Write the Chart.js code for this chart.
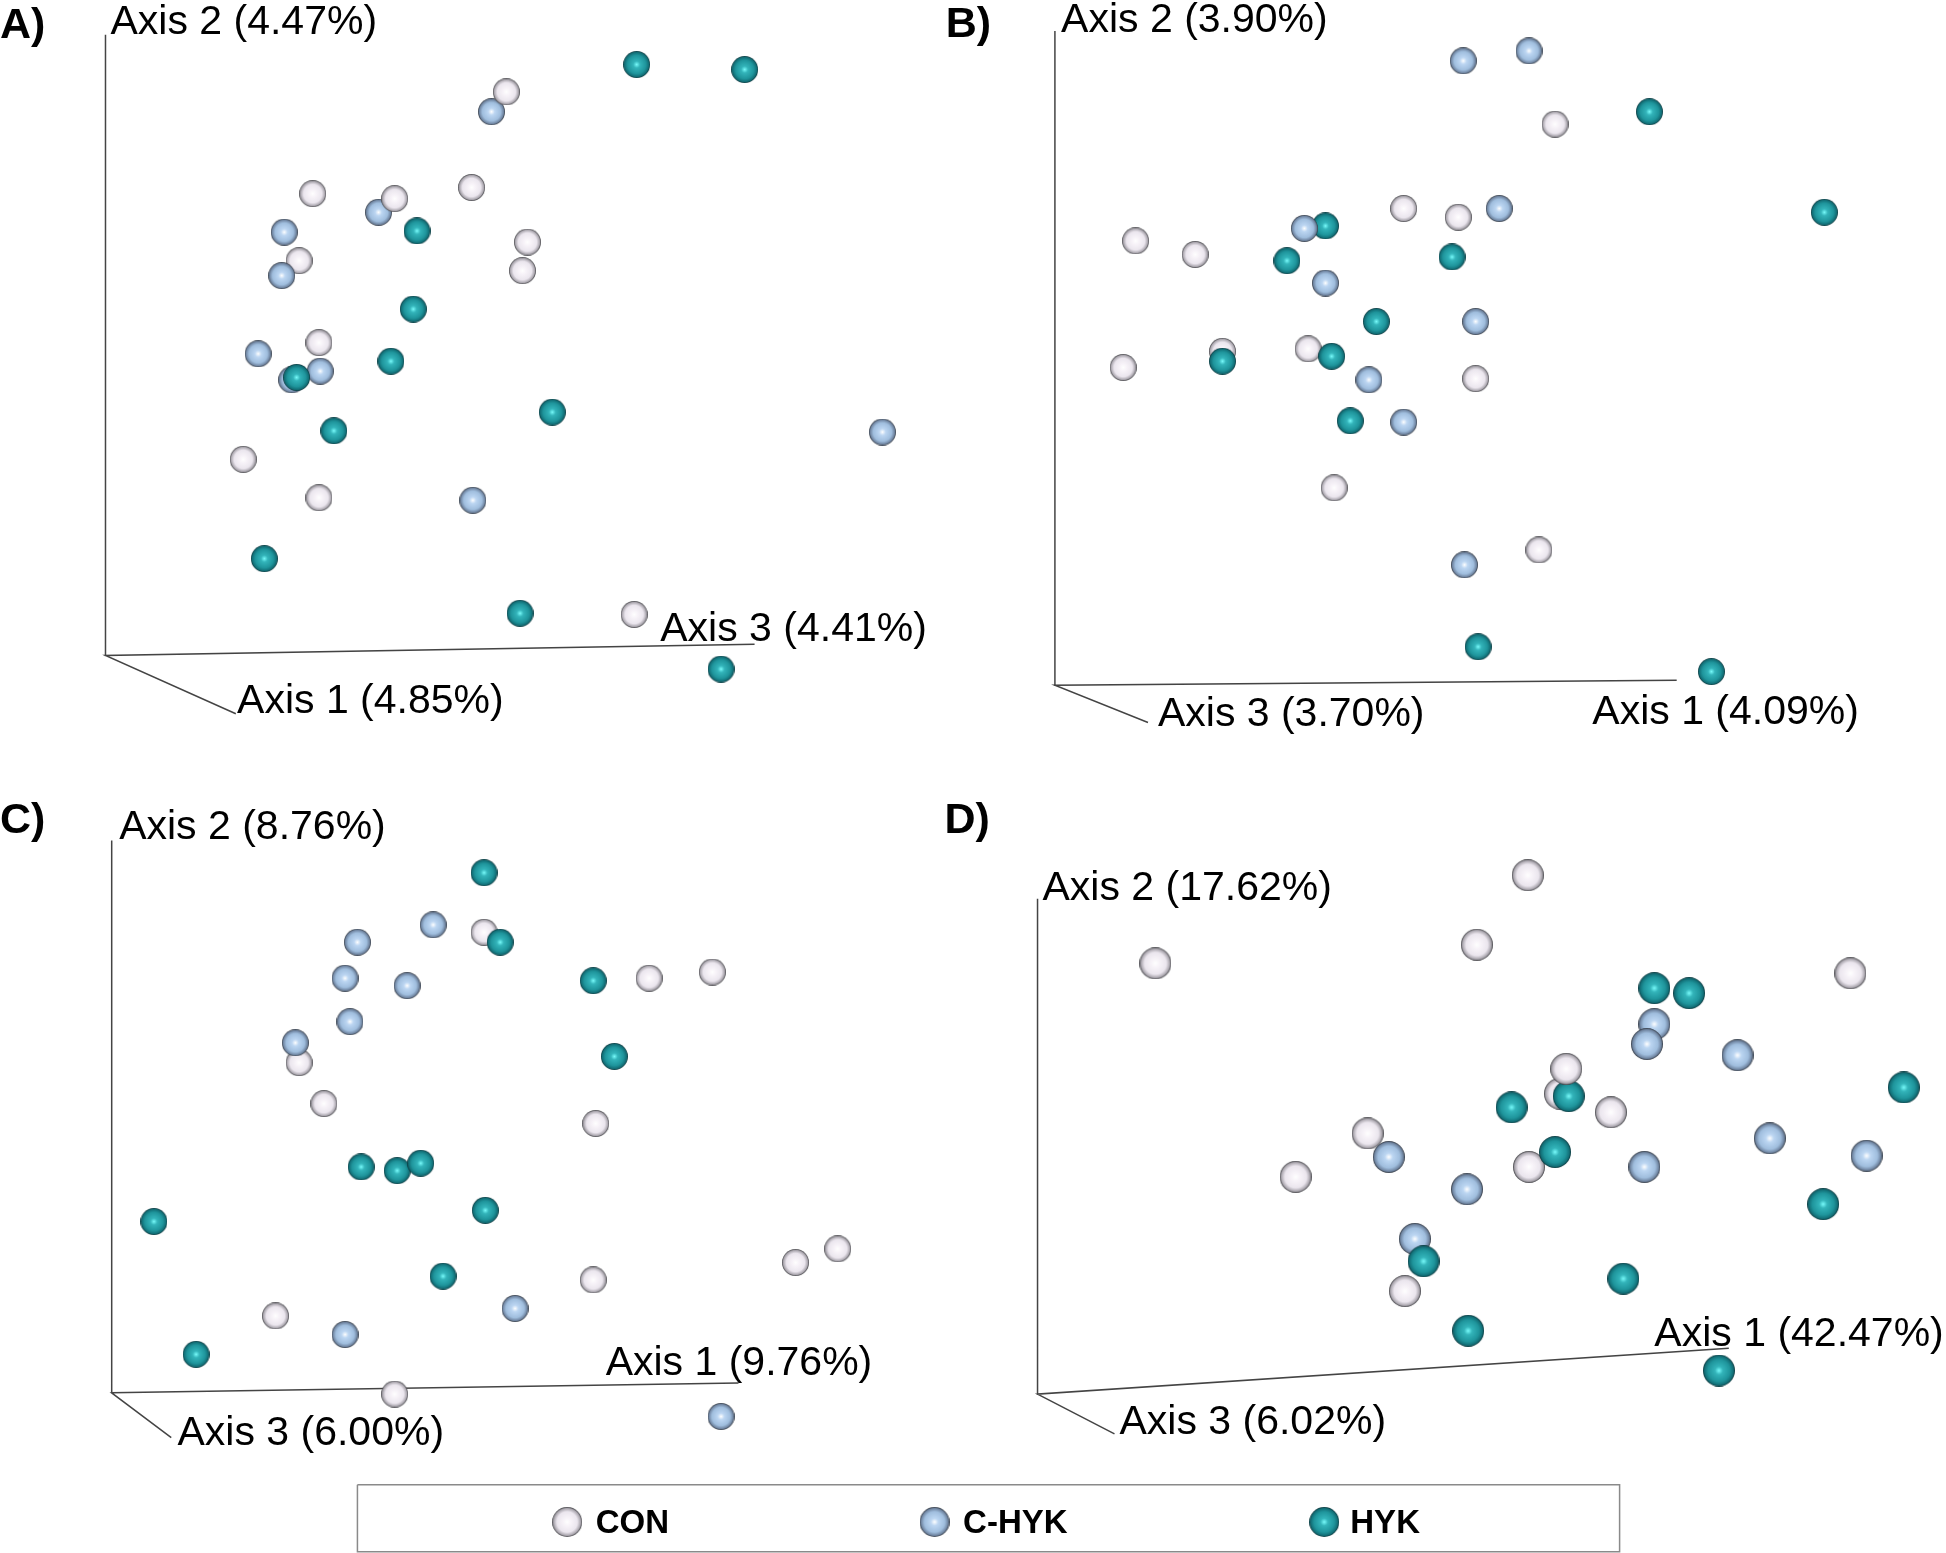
<!DOCTYPE html>
<html><head><meta charset="utf-8">
<style>html,body{margin:0;padding:0;background:#fff}canvas{display:block}</style>
<script src="https://cdn.jsdelivr.net/npm/chart.js@4"></script>
</head><body>
<canvas id="c" width="1946" height="1553"></canvas>
<script>
const conA=[[252,156],[380,151],[425,195],[421,218],[241,210],[257,276],[196,370],[257,401],[511,495]];
const cHykA=[[396,90],[305,171],[229,187],[227,222],[208,285],[258,299],[235,306],[711,348],[381,403]];
const hykA=[[513,52],[600,56],[336,186],[333,249],[315,291],[239,304],[445,332],[269,347],[213,450],[419,494],[581,539]];
const conATop=[[408,74],[318,160]];

const conB=[[1253,100],[1131,168],[1175,175],[915,194],[963,205],[985,283],[905,296],[1054,281],[1189,305],[1075,393],[1240,443]];
const cHykB=[[1179,49],[1232,41],[1208,168],[1068,228],[1189,259],[1103,306],[1131,340],[1180,455]];
const hykB=[[1329,90],[1470,171],[1068,182],[1037,210],[1170,207],[1109,259],[985,291],[1073,287],[1088,339],[1191,521],[1379,541]];
const cHykBTop=[[1051,184]];

const conC=[[390,751],[523,788],[574,783],[241,856],[261,889],[480,905],[641,1017],[675,1006],[478,1031],[222,1060],[318,1123]];
const cHykC=[[288,759],[349,745],[278,788],[328,794],[282,823],[238,840],[415,1054],[278,1075],[581,1141]];
const hykC=[[390,703],[403,759],[478,790],[495,851],[291,940],[320,943],[339,937],[391,975],[124,984],[357,1028],[158,1091]];

const conD=[[1231,705],[931,776],[1190,761],[1491,784],[1257,881],[1298,896],[1102,913],[1044,948],[1232,940],[1132,1040]];
const cHykD=[[1333,825],[1327,841],[1400,850],[1426,917],[1504,931],[1325,940],[1119,932],[1182,958],[1140,998]];
const hykD=[[1333,796],[1361,800],[1264,883],[1218,892],[1534,876],[1253,928],[1469,970],[1147,1016],[1308,1030],[1183,1072],[1385,1104]];
const conDTop=[[1262,861]];

const axesA=[[85,28],[85,528],[608,519],[85,528],[190,575]];
const axesB=[[850,25],[850,552],[1351,548],[850,552],[925,582]];
const axesC=[[90,677],[90,1122],[595,1114],[90,1122],[138,1158]];
const axesD=[[836,724],[836,1123],[1393,1086],[836,1123],[898,1155]];

const legendBox=[[288,1196],[1305,1196],[1305,1250],[288,1250],[288,1196]];
const legendCon=[[457,1226]];
const legendCHyk=[[753,1226]];
const legendHyk=[[1067,1226]];

const axisLabels=[
 ["Axis 2 (4.47%)",89,27],["Axis 3 (4.41%)",532,516],["Axis 1 (4.85%)",191,574],
 ["Axis 2 (3.90%)",855,26],["Axis 3 (3.70%)",933,585],["Axis 1 (4.09%)",1283,583],
 ["Axis 2 (8.76%)",96,676],["Axis 1 (9.76%)",488,1108],["Axis 3 (6.00%)",143,1164],
 ["Axis 2 (17.62%)",840,725],["Axis 1 (42.47%)",1333,1084],["Axis 3 (6.02%)",902,1155]];
const panelLabels=[["A)",0,31],["B)",762,30],["C)",0,671],["D)",761,671]];
const legendLabels=[["CON",480,1235],["C-HYK",776,1235],["HYK",1088,1235]];

const colCon=["#ffffff","#f8f4f9","#ebe6ee","#a9a5ad","#3c3c40"];
const colCHyk=["#ffffff","#bcd6f2","#a0bede","#6f84a0","#30363f"];
const colHyk=["#78fbfb","#33b4ba","#1f959c","#126e76","#0b3439"];

function sphere(r,c){
  const k=document.createElement("canvas");k.width=k.height=2*r;
  const g=k.getContext("2d");
  const rg=g.createRadialGradient(r,r,0,r,r,r);
  rg.addColorStop(0,c[0]);rg.addColorStop(.25,c[1]);rg.addColorStop(.68,c[2]);rg.addColorStop(.9,c[3]);rg.addColorStop(1,c[4]);
  g.fillStyle=rg;g.beginPath();g.arc(r,r,r,0,Math.PI*2);g.fill();
  return k;
}
function pts(arr){return arr.map(p=>({x:p[0],y:p[1]}));}
function balls(arr,col,r){
  return {type:"scatter",data:pts(arr),pointStyle:sphere(r,col),pointRadius:r,pointHoverRadius:r,showLine:false};
}
function line(arr,color,w){
  return {type:"line",data:pts(arr),borderColor:color,borderWidth:w,pointRadius:0,fill:false,tension:0};
}
const R=13.5,RD=16,RL=15;
// Listed back to front; Chart.js paints the first dataset last, so the list is reversed below.
const backToFront=[
  line(axesA,"#444",1.5),line(axesB,"#444",1.5),line(axesC,"#444",1.5),line(axesD,"#444",1.5),
  line(legendBox,"#8a8a8a",1.5),
  balls(conA,colCon,R),balls(cHykA,colCHyk,R),balls(conATop,colCon,R),balls(hykA,colHyk,R),
  balls(conB,colCon,R),balls(cHykB,colCHyk,R),balls(hykB,colHyk,R),balls(cHykBTop,colCHyk,R),
  balls(conC,colCon,R),balls(cHykC,colCHyk,R),balls(hykC,colHyk,R),
  balls(conD,colCon,RD),balls(cHykD,colCHyk,RD),balls(hykD,colHyk,RD),balls(conDTop,colCon,RD),
  balls(legendCon,colCon,RL),balls(legendCHyk,colCHyk,RL),balls(legendHyk,colHyk,RL)
];
const datasets=backToFront.slice().reverse();
const textPlugin={id:"texts",afterDatasetsDraw(ch){
  const {ctx,scales:{x,y}}=ch;
  const put=(list,font)=>{ctx.font=font;list.forEach(t=>ctx.fillText(t[0],x.getPixelForValue(t[1]),y.getPixelForValue(t[2])));};
  ctx.save();ctx.fillStyle="#000";ctx.textAlign="left";ctx.textBaseline="alphabetic";
  put(axisLabels,'41px "Liberation Sans"');
  put(panelLabels,'bold 43px "Liberation Sans"');
  put(legendLabels,'bold 33px "Liberation Sans"');
  ctx.restore();
}};
new Chart(document.getElementById("c"),{
  type:"scatter",
  data:{datasets},
  plugins:[textPlugin],
  options:{
    responsive:false,animation:false,
    layout:{padding:0,autoPadding:false},
    plugins:{legend:{display:false},tooltip:{enabled:false},title:{display:false}},
    scales:{
      x:{type:"linear",display:false,min:0,max:1568},
      y:{type:"linear",display:false,min:0,max:1251,reverse:true}
    }
  }
});
</script>
</body></html>
